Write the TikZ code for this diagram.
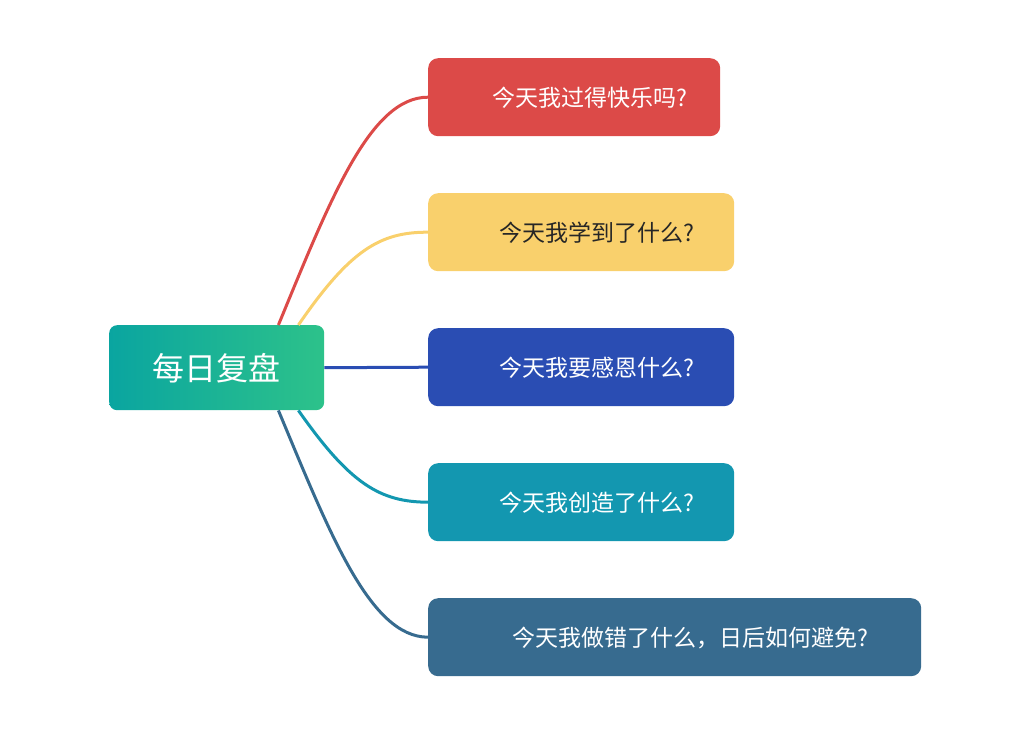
\documentclass[tikz,border=0pt]{standalone}
\usepackage{fontspec}
\newfontfamily\cjk{Noto Sans CJK SC}
\definecolor{cR}{HTML}{DC4A48}
\definecolor{cY}{HTML}{F9D06C}
\definecolor{cB}{HTML}{2A4DB3}
\definecolor{cT}{HTML}{1397B0}
\definecolor{cD}{HTML}{376B8F}
\definecolor{gA}{HTML}{0AA5A0}
\definecolor{gB}{HTML}{2DC28A}
\begin{document}
\begin{tikzpicture}[x=1pt,y=-1pt,
  leaf/.style={rounded corners=10pt,anchor=north west,inner sep=0pt,minimum height=78pt,text=white,font=\cjk\fontsize{23}{26}\selectfont,align=left,text depth=0pt},
  conn/.style={line width=3pt}]
\useasboundingbox (0,0) rectangle (1028,736);
\node[rounded corners=8pt,anchor=north west,minimum width=215pt,minimum height=85pt,inner sep=0pt,left color=gA,right color=gB,text=white,font=\cjk\fontsize{32}{36}\selectfont] (root) at (109,325) {每日复盘};
\node[leaf,fill=cR,minimum width=292pt] (a) at (428,58) {\hspace*{31pt}今天我过得快乐吗?\hfill};
\node[leaf,fill=cY,minimum width=306pt,text=black!85] (b) at (428,193) {\hspace*{31pt}今天我学到了什么?\hfill};
\node[leaf,fill=cB,minimum width=306pt] (c) at (428,328) {\hspace*{31pt}今天我要感恩什么?\hfill};
\node[leaf,fill=cT,minimum width=306pt] (d) at (428,463) {\hspace*{31pt}今天我创造了什么?\hfill};
\node[leaf,fill=cD,minimum width=493pt] (e) at (428,598) {\hspace*{31pt}今天我做错了什么，日后如何避免?\hfill};
\coordinate (r1) at ([xshift=-46pt]root.north east);
\coordinate (r2) at ([xshift=-26pt]root.north east);
\coordinate (r4) at ([xshift=-26pt]root.south east);
\coordinate (r5) at ([xshift=-46pt]root.south east);
\begin{scope}[on background layer/.style={}]
\draw[conn,cR] (r1) .. controls (330,200) and (370,97) .. (a.west);
\draw[conn,cY] (r2) .. controls (350,250) and (380,232) .. (b.west);
\draw[conn,cB] (root.east) -- (c.west);
\draw[conn,cT] (r4) .. controls (350,484) and (380,502) .. (d.west);
\draw[conn,cD] (r5) .. controls (330,534) and (370,637) .. (e.west);
\end{scope}
\end{tikzpicture}
\end{document}
